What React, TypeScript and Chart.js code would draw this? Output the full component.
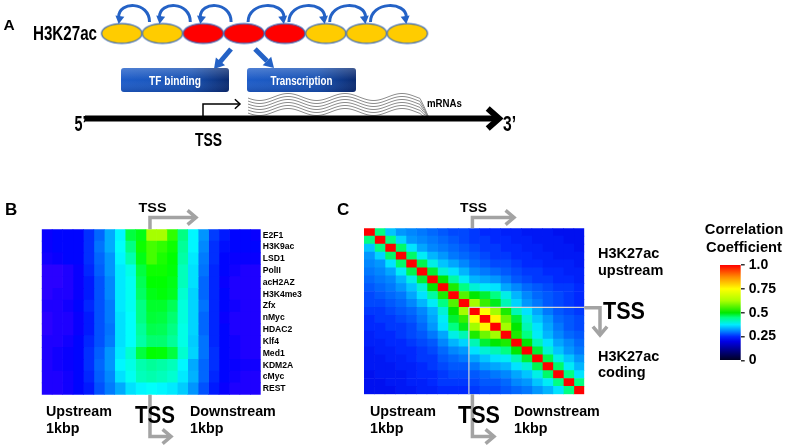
import React, { useEffect, useRef } from "react";
import { Chart, registerables } from "chart.js";
Chart.register(...registerables);

// ---------------- DATA ----------------
// Panel A: nucleosome acetylation states and direction of spreading between neighbours
const nucleosomeAcetylation = ["low", "low", "high", "high", "high", "low", "low", "low"];
const spreadDirection = [-1, -1, -1, 1, 1, 1, 1];
const effectLabels = ["TF binding", "Transcription"];

// Panel B: factor rows x 21 bins (-1 kbp .. +1 kbp)
const factorLabels = ["E2F1", "H3K9ac", "LSD1", "PolII", "acH2AZ", "H3K4me3", "Zfx", "nMyc", "HDAC2", "Klf4", "Med1", "KDM2A", "cMyc", "REST"];
const binLabels = ["-1000", "-900", "-800", "-700", "-600", "-500", "-400", "-300", "-200", "-100", "0", "100", "200", "300", "400", "500", "600", "700", "800", "900", "1000"];
const tssBin = 10;
const factorSignal = [
  [0.07, 0.08, 0.08, 0.08, 0.12, 0.17, 0.23, 0.30, 0.48, 0.52, 0.69, 0.69, 0.58, 0.42, 0.30, 0.21, 0.13, 0.10, 0.08, 0.08, 0.07],
  [0.07, 0.08, 0.08, 0.08, 0.12, 0.18, 0.23, 0.31, 0.42, 0.55, 0.60, 0.58, 0.55, 0.40, 0.30, 0.20, 0.12, 0.09, 0.08, 0.08, 0.08],
  [0.06, 0.07, 0.08, 0.08, 0.12, 0.17, 0.21, 0.30, 0.38, 0.52, 0.60, 0.56, 0.54, 0.39, 0.29, 0.19, 0.12, 0.08, 0.07, 0.07, 0.07],
  [0.04, 0.04, 0.05, 0.07, 0.11, 0.16, 0.21, 0.29, 0.33, 0.48, 0.55, 0.55, 0.53, 0.37, 0.28, 0.18, 0.11, 0.08, 0.06, 0.05, 0.05],
  [0.04, 0.04, 0.05, 0.07, 0.10, 0.15, 0.20, 0.29, 0.32, 0.46, 0.54, 0.54, 0.52, 0.37, 0.28, 0.17, 0.11, 0.07, 0.05, 0.05, 0.05],
  [0.04, 0.05, 0.05, 0.07, 0.10, 0.15, 0.20, 0.29, 0.32, 0.45, 0.52, 0.53, 0.51, 0.35, 0.27, 0.17, 0.11, 0.08, 0.05, 0.05, 0.05],
  [0.05, 0.05, 0.06, 0.08, 0.11, 0.15, 0.19, 0.29, 0.32, 0.42, 0.50, 0.50, 0.46, 0.34, 0.27, 0.18, 0.11, 0.08, 0.06, 0.05, 0.05],
  [0.04, 0.05, 0.05, 0.07, 0.10, 0.15, 0.19, 0.28, 0.31, 0.42, 0.49, 0.48, 0.44, 0.34, 0.27, 0.17, 0.11, 0.07, 0.05, 0.05, 0.05],
  [0.04, 0.05, 0.05, 0.07, 0.10, 0.15, 0.18, 0.28, 0.31, 0.40, 0.47, 0.46, 0.42, 0.33, 0.27, 0.17, 0.11, 0.08, 0.05, 0.05, 0.05],
  [0.05, 0.05, 0.06, 0.08, 0.11, 0.15, 0.19, 0.28, 0.31, 0.39, 0.44, 0.44, 0.40, 0.33, 0.26, 0.18, 0.11, 0.08, 0.06, 0.05, 0.05],
  [0.05, 0.06, 0.07, 0.08, 0.12, 0.16, 0.21, 0.29, 0.35, 0.48, 0.54, 0.53, 0.48, 0.35, 0.27, 0.18, 0.12, 0.08, 0.06, 0.05, 0.05],
  [0.05, 0.06, 0.07, 0.08, 0.12, 0.17, 0.21, 0.30, 0.33, 0.38, 0.40, 0.39, 0.37, 0.30, 0.23, 0.17, 0.12, 0.08, 0.07, 0.06, 0.06],
  [0.05, 0.05, 0.06, 0.08, 0.11, 0.16, 0.20, 0.28, 0.32, 0.37, 0.38, 0.37, 0.35, 0.29, 0.24, 0.17, 0.11, 0.08, 0.06, 0.05, 0.05],
  [0.05, 0.05, 0.06, 0.08, 0.10, 0.15, 0.19, 0.23, 0.28, 0.30, 0.31, 0.30, 0.29, 0.26, 0.21, 0.15, 0.10, 0.07, 0.05, 0.05, 0.05],
];

// Panel C: upper triangle of the 21x21 H3K27ac correlation matrix (row i holds j = i+1 .. 20)
const corrUpper = [
  [0.45, 0.35, 0.32, 0.31, 0.30, 0.29, 0.28, 0.27, 0.27, 0.26, 0.25, 0.25, 0.24, 0.24, 0.23, 0.23, 0.23, 0.22, 0.22, 0.22],
  [0.45, 0.36, 0.32, 0.31, 0.30, 0.29, 0.28, 0.27, 0.26, 0.26, 0.25, 0.25, 0.24, 0.24, 0.23, 0.23, 0.23, 0.22, 0.22],
  [0.46, 0.37, 0.33, 0.31, 0.30, 0.29, 0.28, 0.27, 0.26, 0.26, 0.25, 0.25, 0.24, 0.24, 0.23, 0.23, 0.23, 0.22],
  [0.46, 0.38, 0.34, 0.32, 0.30, 0.29, 0.28, 0.27, 0.26, 0.26, 0.25, 0.25, 0.24, 0.24, 0.23, 0.23, 0.23],
  [0.47, 0.39, 0.35, 0.33, 0.31, 0.29, 0.28, 0.27, 0.27, 0.26, 0.25, 0.25, 0.24, 0.24, 0.24, 0.23],
  [0.48, 0.40, 0.37, 0.34, 0.31, 0.30, 0.29, 0.28, 0.27, 0.26, 0.26, 0.25, 0.25, 0.24, 0.24],
  [0.50, 0.43, 0.38, 0.34, 0.33, 0.32, 0.30, 0.28, 0.27, 0.26, 0.26, 0.25, 0.25, 0.24],
  [0.52, 0.45, 0.40, 0.38, 0.37, 0.33, 0.31, 0.29, 0.28, 0.27, 0.26, 0.26, 0.25],
  [0.56, 0.50, 0.48, 0.45, 0.39, 0.34, 0.31, 0.29, 0.28, 0.27, 0.26, 0.25],
  [0.62, 0.54, 0.49, 0.42, 0.36, 0.32, 0.30, 0.28, 0.27, 0.26, 0.25],
  [0.75, 0.62, 0.52, 0.42, 0.37, 0.33, 0.30, 0.28, 0.27, 0.26],
  [0.76, 0.58, 0.48, 0.40, 0.35, 0.32, 0.29, 0.28, 0.27],
  [0.62, 0.50, 0.42, 0.37, 0.33, 0.30, 0.28, 0.27],
  [0.52, 0.45, 0.38, 0.34, 0.31, 0.29, 0.28],
  [0.50, 0.42, 0.37, 0.33, 0.31, 0.29],
  [0.48, 0.40, 0.35, 0.32, 0.30],
  [0.47, 0.39, 0.35, 0.32],
  [0.46, 0.38, 0.34],
  [0.45, 0.37],
  [0.45],
];
const corrTicks = [0, 0.25, 0.5, 0.75, 1];
const corrTickLabels = ["0", "0.25", "0.5", "0.75", "1.0"];

// ---------------- helpers ----------------
const FF = '"Liberation Sans", Arial, sans-serif';

const corrStops: [number, number, number, number][] = [
  [0, 0, 0, 30], [0.1, 0, 0, 130], [0.2, 0, 0, 230], [0.25, 0, 40, 255], [0.3, 0, 120, 255],
  [0.375, 0, 235, 255], [0.45, 0, 255, 130], [0.5, 0, 232, 0], [0.625, 170, 255, 0],
  [0.75, 255, 255, 0], [0.875, 255, 140, 0], [1, 255, 0, 0],
];
function corrColor(v: number) {
  for (let k = 1; k < corrStops.length; k++) {
    const a = corrStops[k - 1], b = corrStops[k];
    if (v <= b[0]) {
      const t = (v - a[0]) / (b[0] - a[0]);
      const c = [1, 2, 3].map((q) => Math.round(a[q] + (b[q] - a[q]) * t));
      return `rgb(${c[0]},${c[1]},${c[2]})`;
    }
  }
  return "rgb(255,0,0)";
}
function signalColor(v: number) {
  return `hsl(${Math.round(260 * (1 - v))},100%,50%)`;
}
function corrValue(i: number, j: number) {
  if (i === j) return 1;
  return i < j ? corrUpper[i][j - i - 1] : corrUpper[j][i - j - 1];
}

function text(ctx: CanvasRenderingContext2D, s: string, x: number, y: number, size: number, align: "left" | "center" = "left", width?: number, color = "#000") {
  ctx.save();
  ctx.font = `bold ${size}px ${FF}`;
  ctx.fillStyle = color;
  ctx.textBaseline = "alphabetic";
  ctx.textAlign = "left";
  const w = ctx.measureText(s).width;
  const sx = width ? width / w : 1;
  const left = align === "center" ? x - (w * sx) / 2 : x;
  ctx.translate(left, y);
  ctx.scale(sx, 1);
  ctx.fillText(s, 0, 0);
  ctx.restore();
}
function chevron(ctx: CanvasRenderingContext2D, x: number, y: number, ang: number, len: number, spread: number) {
  ctx.beginPath();
  ctx.moveTo(x - len * Math.cos(ang - spread), y - len * Math.sin(ang - spread));
  ctx.lineTo(x, y);
  ctx.lineTo(x - len * Math.cos(ang + spread), y - len * Math.sin(ang + spread));
  ctx.stroke();
}
function filledHead(ctx: CanvasRenderingContext2D, x: number, y: number, ang: number, len: number, half: number) {
  const bx = x - len * Math.cos(ang), by = y - len * Math.sin(ang);
  const px = -Math.sin(ang) * half, py = Math.cos(ang) * half;
  ctx.beginPath();
  ctx.moveTo(x, y);
  ctx.lineTo(bx + px, by + py);
  ctx.lineTo(bx - px, by - py);
  ctx.closePath();
  ctx.fill();
}
function bentArrow(ctx: CanvasRenderingContext2D, pts: number[][], color: string, lw: number, head: number) {
  ctx.save();
  ctx.strokeStyle = color;
  ctx.lineWidth = lw;
  ctx.lineJoin = "miter";
  ctx.beginPath();
  pts.forEach((p, i) => (i ? ctx.lineTo(p[0], p[1]) : ctx.moveTo(p[0], p[1])));
  ctx.stroke();
  const a = pts[pts.length - 2], b = pts[pts.length - 1];
  chevron(ctx, b[0], b[1], Math.atan2(b[1] - a[1], b[0] - a[0]), head, 0.7);
  ctx.restore();
}
const GRAY = "#a3a3a3";

// ---------------- plugins ----------------
const panelAPlugin = {
  id: "panelA",
  afterDraw(chart: any) {
    const ctx: CanvasRenderingContext2D = chart.ctx;
    const xs = chart.scales.x;
    ctx.save();
    text(ctx, "A", 3.5, 29.5, 15.5);
    text(ctx, "H3K27ac", 33, 39.5, 20, "left", 64);

    // curved spreading arrows
    const blue = "#2462c6";
    ctx.strokeStyle = blue;
    ctx.fillStyle = blue;
    ctx.lineWidth = 3;
    spreadDirection.forEach((d, k) => {
      const xa = xs.getPixelForValue(k), xb = xs.getPixelForValue(k + 1);
      const from = d < 0 ? xb : xa, to = d < 0 ? xa : xb;
      const x0 = from + (d < 0 ? -13 : 4), x1 = to + (d < 0 ? -3 : -1);
      ctx.beginPath();
      ctx.moveTo(x0, 22);
      ctx.bezierCurveTo(x0, 1, x1, 1, x1, 17);
      ctx.stroke();
      filledHead(ctx, x1, 24, Math.PI / 2 + (d < 0 ? 0.15 : -0.15), 8, 4.5);
    });

    // straight arrows from the central nucleosome
    ctx.lineWidth = 5;
    ctx.beginPath(); ctx.moveTo(231, 49); ctx.lineTo(220, 62); ctx.stroke();
    filledHead(ctx, 214, 69, Math.atan2(13, -11), 10, 6);
    ctx.beginPath(); ctx.moveTo(255, 49); ctx.lineTo(267, 61); ctx.stroke();
    filledHead(ctx, 274, 68, Math.atan2(12, 12), 10, 6);

    // effect boxes
    const boxes = [[121, 68, 108, 24], [247, 68, 109, 24]];
    const tw = [52, 62];
    boxes.forEach((b, i) => {
      const g = ctx.createLinearGradient(b[0], 0, b[0] + b[2], 0);
      g.addColorStop(0, "#1d5cc8");
      g.addColorStop(0.65, "#1650b2");
      g.addColorStop(1, "#0a2a70");
      ctx.fillStyle = g;
      ctx.beginPath();
      ctx.roundRect(b[0], b[1], b[2], b[3], 3);
      ctx.fill();
      const g2 = ctx.createLinearGradient(0, b[1], 0, b[1] + b[3]);
      g2.addColorStop(0, "rgba(255,255,255,0.22)");
      g2.addColorStop(0.5, "rgba(255,255,255,0.0)");
      g2.addColorStop(1, "rgba(0,0,40,0.15)");
      ctx.fillStyle = g2;
      ctx.fill();
      text(ctx, effectLabels[i], b[0] + b[2] / 2, 85, 13, "center", tw[i], "#fff");
    });

    // mRNA waves
    ctx.strokeStyle = "#8c8c8c";
    ctx.lineWidth = 1;
    for (let l = 0; l < 6; l++) {
      const base = 97 + l * 3;
      ctx.beginPath();
      for (let x = 248; x <= 420; x += 1) {
        const y = base + 3.5 * Math.sin(((x - 248) / 57) * Math.PI * 2 + 0.3);
        if (x === 248) ctx.moveTo(x, y); else ctx.lineTo(x, y);
      }
      ctx.quadraticCurveTo(424, base + 6 + (5 - l) * 0.5, 428, 116);
      ctx.stroke();
    }
    text(ctx, "mRNAs", 427, 107, 10.5, "left", 35);

    // main DNA arrow
    ctx.strokeStyle = "#000";
    ctx.lineWidth = 6;
    ctx.beginPath(); ctx.moveTo(85, 118.5); ctx.lineTo(496, 118.5); ctx.stroke();
    ctx.lineJoin = "miter";
    chevron(ctx, 499, 118.5, 0, 15, 0.72);
    text(ctx, "5\u2019", 74.5, 131, 22, "left", 12);
    text(ctx, "3\u2019", 503, 131, 22, "left", 13);

    // TSS bent arrow
    ctx.lineWidth = 1.5;
    ctx.beginPath(); ctx.moveTo(203, 117); ctx.lineTo(203, 104); ctx.lineTo(239, 104); ctx.stroke();
    chevron(ctx, 240, 104, 0, 7, 0.75);
    text(ctx, "TSS", 208.5, 145.5, 18.5, "center", 27);
    ctx.restore();
  },
};

const panelBPlugin = {
  id: "panelB",
  afterDraw(chart: any) {
    const ctx: CanvasRenderingContext2D = chart.ctx;
    const x = chart.scales.x.getPixelForValue(tssBin) + 4;
    const { top, bottom } = chart.chartArea;
    text(ctx, "B", 5, 215, 17);
    bentArrow(ctx, [[x, top], [x, 217.5], [196, 217.5]], GRAY, 3.5, 11);
    text(ctx, "TSS", 152.5, 212, 13, "center", 28);
    bentArrow(ctx, [[x, bottom], [x, 436.5], [171, 436.5]], GRAY, 3.5, 11);
    text(ctx, "TSS", 155, 423, 23, "center", 40);
    text(ctx, "Upstream", 46, 416, 14.3);
    text(ctx, "1kbp", 46, 433.3, 14.3);
    text(ctx, "Downstream", 190, 416, 14.3);
    text(ctx, "1kbp", 190, 433.3, 14.3);
  },
};

const panelCPlugin = {
  id: "panelC",
  afterDatasetsDraw(chart: any) {
    const ctx: CanvasRenderingContext2D = chart.ctx;
    const xs = chart.scales.x, ys = chart.scales.y;
    const { right, bottom } = chart.chartArea;
    const xT = xs.getPixelForValue(tssBin);
    const yT = (ys.getPixelForValue(tssBin) + ys.getPixelForValue(tssBin - 1)) / 2;
    ctx.save();
    ctx.strokeStyle = "#d4d4d4";
    ctx.lineWidth = 1.2;
    ctx.beginPath();
    ctx.moveTo(xT, yT); ctx.lineTo(xT, bottom);
    ctx.moveTo(xT, yT); ctx.lineTo(right, yT);
    ctx.stroke();
    ctx.restore();
  },
  afterDraw(chart: any) {
    const ctx: CanvasRenderingContext2D = chart.ctx;
    const { top, right, bottom } = chart.chartArea;
    const ys = chart.scales.y;
    const yT = (ys.getPixelForValue(tssBin) + ys.getPixelForValue(tssBin - 1)) / 2;
    const xA = chart.scales.x.getPixelForValue(tssBin) + 3.5;
    text(ctx, "C", 337, 215, 17);
    bentArrow(ctx, [[xA, top], [xA, 217.5], [514, 217.5]], GRAY, 3.5, 11);
    text(ctx, "TSS", 473.5, 212, 13, "center", 27);
    bentArrow(ctx, [[xA, bottom], [xA, 436.5], [494, 436.5]], GRAY, 3.5, 11);
    text(ctx, "TSS", 479, 423, 23, "center", 42);
    bentArrow(ctx, [[right, yT + 0.5], [600, yT + 0.5], [600, 335]], GRAY, 3.5, 11);
    text(ctx, "TSS", 603, 318.5, 23, "left", 42);
    text(ctx, "H3K27ac", 598, 258, 14.5);
    text(ctx, "upstream", 598, 274.5, 14.5);
    text(ctx, "H3K27ac", 598, 360.5, 14.5);
    text(ctx, "coding", 598, 376.5, 14.5);
    text(ctx, "Upstream", 370, 416, 14.3);
    text(ctx, "1kbp", 370, 433.3, 14.3);
    text(ctx, "Downstream", 514, 416, 14.3);
    text(ctx, "1kbp", 514, 433.3, 14.3);
    text(ctx, "Correlation", 744, 234, 14.7, "center");
    text(ctx, "Coefficient", 744, 251.5, 14.7, "center");
  },
};

export default function App() {
  const aRef = useRef<HTMLCanvasElement>(null);
  const bRef = useRef<HTMLCanvasElement>(null);
  const cRef = useRef<HTMLCanvasElement>(null);
  const kRef = useRef<HTMLCanvasElement>(null);

  useEffect(() => {
    const charts: Chart[] = [];
    const W = 787, H = 446;

    // ---- Panel A ----
    const ovals: Record<string, HTMLCanvasElement> = {};
    ([["low", "#ffcc00"], ["high", "#ff0000"]] as const).forEach(([k, col]) => {
      const c = document.createElement("canvas");
      c.width = 44; c.height = 24;
      const g = c.getContext("2d")!;
      g.beginPath();
      g.ellipse(22, 12, 20.2, 9.8, 0, 0, Math.PI * 2);
      g.fillStyle = col;
      g.fill();
      g.strokeStyle = "#3465b8";
      g.lineWidth = 1.2;
      g.stroke();
      ovals[k] = c;
    });
    charts.push(new Chart(aRef.current!, {
      type: "scatter",
      data: {
        datasets: [{
          data: nucleosomeAcetylation.map((_, i) => ({ x: i, y: 0 })),
          pointStyle: nucleosomeAcetylation.map((s) => ovals[s]) as any,
          pointRadius: 10,
          clip: false as any,
        }],
      },
      options: {
        responsive: false, animation: false,
        layout: { padding: { left: 101.3, right: W - 427.7, top: 24, bottom: H - 43 } },
        scales: { x: { type: "linear", min: -0.5, max: 7.5, display: false }, y: { min: -1, max: 1, display: false } },
        plugins: { legend: { display: false }, tooltip: { enabled: false } },
      },
      plugins: [panelAPlugin],
    }));

    // ---- Panel B ----
    charts.push(new Chart(bRef.current!, {
      type: "bar",
      data: {
        labels: factorLabels,
        datasets: binLabels.map((_, j) => ({
          data: factorLabels.map(() => [j, j + 1]),
          backgroundColor: factorLabels.map((_, r) => signalColor(factorSignal[r][j])),
          borderWidth: 0,
          barPercentage: 1,
          categoryPercentage: 1,
          grouped: false,
        })) as any,
      },
      options: {
        indexAxis: "y",
        responsive: false, animation: false,
        layout: { padding: { left: 41.7, right: W - 260.7 - 45, top: 229.3, bottom: H - 394.7 } },
        scales: {
          x: { type: "linear", min: 0, max: binLabels.length, display: false },
          y: {
            type: "category", position: "right",
            grid: { display: false, drawTicks: false },
            border: { display: false },
            ticks: { color: "#000", font: { family: FF, size: 8.6, weight: "bold" }, padding: 2, autoSkip: false },
            afterFit: (s: any) => { s.width = 45; },
          },
        },
        plugins: { legend: { display: false }, tooltip: { enabled: false } },
      } as any,
      plugins: [panelBPlugin],
    }));

    // ---- Panel C ----
    charts.push(new Chart(cRef.current!, {
      type: "bar",
      data: {
        labels: binLabels,
        datasets: binLabels.map((_, j) => ({
          data: binLabels.map(() => [j, j + 1]),
          backgroundColor: binLabels.map((_, i) => corrColor(corrValue(i, j))),
          borderWidth: 0,
          barPercentage: 1,
          categoryPercentage: 1,
          grouped: false,
        })) as any,
      },
      options: {
        indexAxis: "y",
        responsive: false, animation: false,
        layout: { padding: { left: 364, right: W - 584.3, top: 228.3, bottom: H - 394.3 } },
        scales: {
          x: { type: "linear", min: 0, max: binLabels.length, display: false },
          y: { type: "category", display: false },
        },
        plugins: { legend: { display: false }, tooltip: { enabled: false } },
      } as any,
      plugins: [panelCPlugin],
    }));

    // ---- Colour bar ----
    charts.push(new Chart(kRef.current!, {
      type: "bar",
      data: {
        labels: ["r"],
        datasets: [{
          data: [[0, 1]] as any,
          borderWidth: 0,
          barPercentage: 1,
          categoryPercentage: 1,
          backgroundColor: (c: any) => {
            const ca = c.chart.chartArea;
            if (!ca) return "#000";
            const g = c.chart.ctx.createLinearGradient(0, ca.bottom, 0, ca.top);
            corrStops.forEach((s) => g.addColorStop(s[0], `rgb(${s[1]},${s[2]},${s[3]})`));
            return g;
          },
        }],
      },
      options: {
        responsive: false, animation: false,
        layout: { padding: { left: 720, right: W - 740.7 - 46, top: 265, bottom: H - 360.5 } },
        scales: {
          x: { display: false },
          y: {
            min: 0, max: 1, position: "right",
            afterBuildTicks: (s: any) => { s.ticks = corrTicks.map((v) => ({ value: v })); },
            afterFit: (s: any) => { s.width = 46; },
            ticks: {
              color: "#000", font: { family: FF, size: 14, weight: "bold" }, padding: 4,
              callback: (v: any) => corrTickLabels[corrTicks.indexOf(Number(v))],
            },
            grid: { display: true, drawOnChartArea: false, drawTicks: true, tickLength: 4, color: "#333", lineWidth: 1.5 },
            border: { display: false },
          },
        },
        plugins: { legend: { display: false }, tooltip: { enabled: false } },
      } as any,
    }));

    return () => charts.forEach((c) => c.destroy());
  }, []);

  const st: React.CSSProperties = { position: "absolute", left: 0, top: 0 };
  return (
    <div style={{ position: "fixed", left: 0, top: 0, width: 787, height: 446, background: "#fff" }}>
      <canvas ref={aRef} width={787} height={446} style={st} />
      <canvas ref={bRef} width={787} height={446} style={st} />
      <canvas ref={cRef} width={787} height={446} style={st} />
      <canvas ref={kRef} width={787} height={446} style={st} />
    </div>
  );
}
